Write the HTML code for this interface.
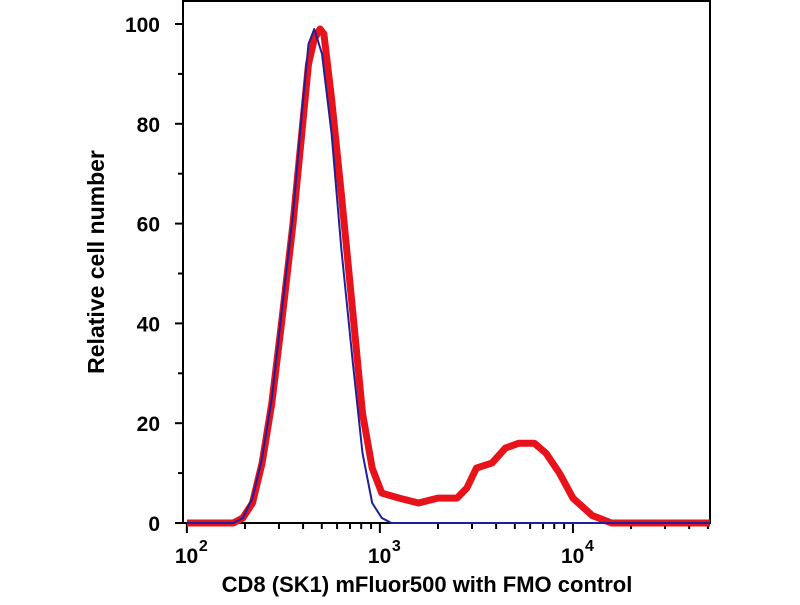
<!DOCTYPE html>
<html><head><meta charset="utf-8"><style>
body{margin:0;background:#fff;}
svg text{font-family:"Liberation Sans",sans-serif;font-weight:bold;fill:#000;}
</style></head><body>
<svg id="chart" width="800" height="600" xmlns="http://www.w3.org/2000/svg">
<g id="axes"></g>
<g id="series"></g>
<text transform="translate(104,262) rotate(-90)" text-anchor="middle" font-size="23">Relative cell number</text>
<text x="427" y="592" text-anchor="middle" font-size="22">CD8 (SK1) mFluor500 with FMO control</text>
</svg>
<script>
const yTicks=[0,20,40,60,80,100];
const xDecades=[2,3,4];
const blueLog=[2.0,2.24,2.29,2.34,2.39,2.44,2.49,2.55,2.60,2.63,2.66,2.70,2.75,2.80,2.86,2.91,2.96,3.01,3.06,4.71];
const blueVal=[0,0,1,5,13,25,42,62,84,96,99,94,78,55,32,14,4,1,0,0];
const redLog=[2.0,2.24,2.29,2.34,2.39,2.44,2.49,2.55,2.60,2.63,2.66,2.69,2.71,2.75,2.80,2.86,2.91,2.96,3.01,3.1,3.2,3.3,3.4,3.45,3.5,3.58,3.65,3.72,3.8,3.86,3.93,4.0,4.1,4.2,4.71];
const redVal=[0,0,1,4,12,24,40,60,80,92,97,99,98,85,66,42,22,11,6,5,4,5,5,7,11,12,15,16,16,14,10,5,1.5,0,0];
const L=183,R=710,T=1,B=523;
const xMin=1.98,xMax=4.71;
const xs=v=>L+(v-xMin)/(xMax-xMin)*(R-L);
const ys=v=>B-(v/100)*(B-24);
const NS="http://www.w3.org/2000/svg";
const ax=document.getElementById('axes'),se=document.getElementById('series');
function mk(tag,attrs,parent){const e=document.createElementNS(NS,tag);for(const k in attrs)e.setAttribute(k,attrs[k]);parent.appendChild(e);return e;}
const frame=mk('rect',{x:L,y:T,width:R-L,height:B-T,fill:'none',stroke:'#000','stroke-width':2},ax);


for(let v=0;v<=100;v+=10){
  const major=v%20===0;
  const t=mk('line',{x1:L-(major?8:5),x2:L,y1:ys(v),y2:ys(v),stroke:'#000','stroke-width':2},ax);
  
  
}
yTicks.forEach(v=>{
  const t=mk('text',{x:L-23,y:ys(v)+8,'text-anchor':'end','font-size':21},ax);
  t.textContent=v;
  
  
});
for(let d=2;d<=4;d++){for(let m=1;m<=9;m++){
  const lv=d+Math.log10(m);
  if(lv<xMin||lv>xMax)continue;
  const t=mk('line',{x1:xs(lv),x2:xs(lv),y1:B,y2:B+(m===1?10:6),stroke:'#000','stroke-width':2},ax);
  
  
}}
xDecades.forEach(d=>{
  const t=mk('text',{x:xs(d)-12,y:563,'font-size':21},ax);
  t.textContent='10';
  
  
  const s=mk('text',{x:xs(d)+12,y:551,'font-size':16},ax);
  s.textContent=d;
  
  
});
function path(lx,vals){return lx.map((v,i)=>(i?'L':'M')+xs(v).toFixed(1)+','+ys(vals[i]).toFixed(1)).join(' ');}
const red=mk('path',{d:path(redLog,redVal),fill:'none',stroke:'#e8121a','stroke-width':7,'stroke-linejoin':'round'},se);


const blue=mk('path',{d:path(blueLog,blueVal),fill:'none',stroke:'#1f1f9a','stroke-width':2,'stroke-linejoin':'round'},se);


</script>
</body></html>
